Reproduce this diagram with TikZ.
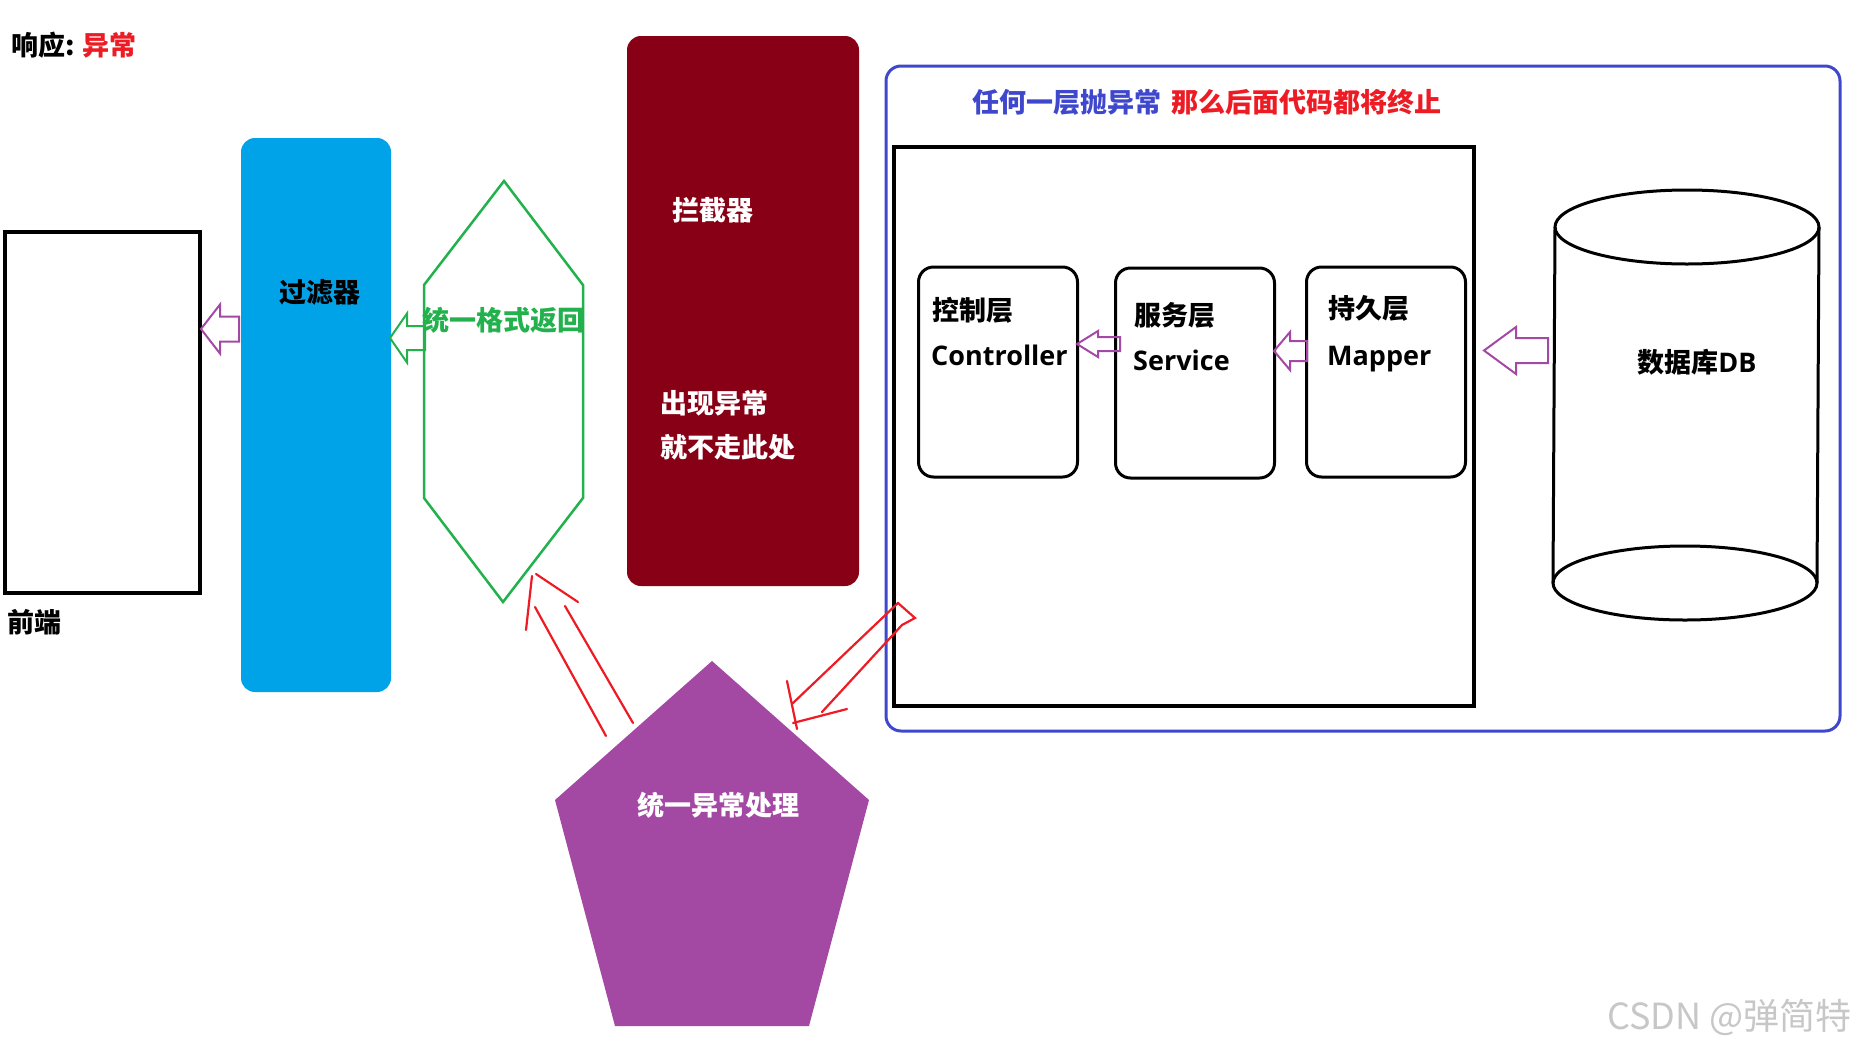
\documentclass[tikz,border=0pt]{standalone}
\usepackage{tikz}
\usepackage{fontspec}
\setmainfont{Noto Sans CJK SC}
\newfontfamily\latinfont{Open Sans}
\usetikzlibrary{positioning}
\definecolor{PaintBlue}{HTML}{00A2E8}
\definecolor{PaintRed}{HTML}{ED1C24}
\definecolor{Maroon}{HTML}{880015}
\definecolor{PaintGreen}{HTML}{22B14C}
\definecolor{PaintPurple}{HTML}{A349A4}
\definecolor{Indigo}{HTML}{3F48CC}
\newcommand{\setfs}[1]{\fontsize{#1}{#1}\selectfont}

\tikzset{
  lbl/.style={inner sep=0pt, font=\bfseries\setfs{27}},
  latin/.style={inner sep=0pt, font=\latinfont\bfseries\setfs{27}},
  layerbox/.style={draw, line width=3pt, rounded corners=15pt,
    minimum width=159pt, minimum height=210pt},
  hollow/.style={line width=2pt, line join=miter},
  scribble/.style={PaintRed, line width=2.2pt, line cap=round},
  pics/blockarrow/.style n args={4}{code={
    \draw[hollow] (0,0) -- (#1,-#2) -- (#1,-#3) -- (#4,-#3) -- (#4,#3)
      -- (#1,#3) -- (#1,#2) -- cycle;}}
}

\begin{document}
\begin{tikzpicture}[x=1pt, y=-1pt]
  \useasboundingbox (0,0) rectangle (1856,1047);

  % Heading
  \node[lbl, anchor=west] (resp) at (11,45) {响应:\hspace{8pt}\textcolor{PaintRed}{异常}};

  % Front end
  \node[draw, line width=3.3pt, minimum width=195pt, minimum height=361pt]
    (front) at (102.5,412.5) {};
  \node[lbl, anchor=west] (fronttxt) at (7,622) {前端};

  % Filter
  \node[fill=PaintBlue, rounded corners=14pt, minimum width=150pt,
    minimum height=554pt] (filter) at (316,415) {};
  \node[lbl] (filtertxt) at (320,292) {过滤器};
  \pic[PaintPurple] at (201,329) {blockarrow={19}{24.5}{12.5}{38}};

  % Unified return (hexagon)
  \draw[PaintGreen, line width=2.5pt] (504,181) -- (583,285) -- (583,498)
    -- (503,602) -- (424,498) -- (424,285) -- cycle;
  \node[lbl, PaintGreen] (unified) at (503,320) {统一格式返回};
  \pic[PaintGreen] at (390,338) {blockarrow={17}{24.5}{12}{35}};

  % Interceptor
  \node[fill=Maroon, rounded corners=14pt, minimum width=232pt,
    minimum height=550pt] (interceptor) at (743,311) {};
  \node[lbl, white, anchor=west] (intertxt) at (672,210) {拦截器};
  \node[lbl, white, anchor=west] (skip1) at (660,403) {出现异常};
  \node[lbl, white, anchor=west] (skip2) at (660,447) {就不走此处};

  % Back end frame
  \node[draw=Indigo, line width=3pt, rounded corners=15pt,
    minimum width=954pt, minimum height=665pt] (outer) at (1363,398.5) {};
  \node[lbl, anchor=west] (note) at (972,102)
    {\textcolor{Indigo}{任何一层抛异常}\hspace{10pt}\textcolor{PaintRed}{那么后面代码都将终止}};
  \node[draw, line width=3.5pt, minimum width=580pt, minimum height=559pt]
    (inner) at (1184,426.5) {};

  % Layers
  \node[layerbox] (ctrl) at (998,372) {};
  \node[layerbox] (svc) at (1195,373) {};
  \node[layerbox] (mapper) at (1386,372) {};
  \node[lbl, anchor=west] (ctrlcn) at (932,310) {控制层};
  \node[latin, anchor=base west] (ctrlen) at (931,365) {Controller};
  \node[lbl, anchor=west] (svccn) at (1134,315) {服务层};
  \node[latin, anchor=base west] (svcen) at (1133,370) {Service};
  \node[lbl, anchor=west] (mappercn) at (1328,308) {持久层};
  \node[latin, anchor=base west] (mapperen) at (1327,365) {Mapper};
  \pic[PaintPurple] at (1077,344) {blockarrow={21}{13}{7}{43}};
  \pic[PaintPurple] at (1274,351) {blockarrow={16}{19}{10}{33}};
  \pic[PaintPurple] at (1484,350.5) {blockarrow={32}{23.5}{12.5}{64}};

  % Database
  \draw[line width=3pt] (1687,227) ellipse [x radius=132, y radius=37];
  \draw[line width=3pt] (1685,583) ellipse [x radius=132, y radius=37];
  \draw[line width=3pt] (1555,227) -- (1553,583);
  \draw[line width=3pt] (1819,227) -- (1817,583);
  \node[lbl] (dbtxt) at (1697,362) {数据库{\latinfont DB}};

  % Exception handler
  \fill[PaintPurple] (712,661) -- (869,800) -- (809,1026) -- (615,1026)
    -- (555,800) -- cycle;
  \node[lbl, white] (handler) at (718,805) {统一异常处理};

  % Hand drawn arrows
  \draw[scribble] (606,736) -- (535,607);
  \draw[scribble] (633,723) -- (565,606);
  \draw[scribble] (526,630) -- (532,576);
  \draw[scribble] (536,574) -- (578,602);
  \draw[scribble] (793,703) -- (898,603) -- (915,618) -- (902,625) -- (822,712);
  \draw[scribble] (787,681) -- (797,729);
  \draw[scribble] (793,723) -- (847,709);

  % Watermark
  \node[inner sep=0pt, anchor=west, font=\setfs{36}, black!22] (mark)
    at (1607,1017) {CSDN @弹简特};
\end{tikzpicture}
\end{document}
